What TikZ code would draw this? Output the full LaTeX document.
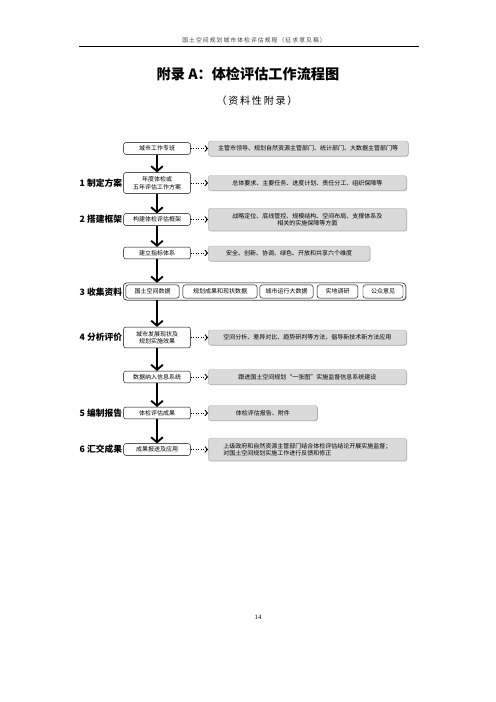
\documentclass[tikz,border=0pt]{standalone}
\usepackage{fontspec}
\setmainfont{Noto Sans CJK SC}
\newfontfamily\spacedcjk[LetterSpace=18]{Noto Sans CJK SC}
\newfontfamily\pagenumfont{Liberation Serif}
\usetikzlibrary{arrows.meta, positioning, shadows}
\definecolor{boxgrey}{HTML}{DADADA}
\definecolor{boxedge}{HTML}{A8A8A8}
\definecolor{headgrey}{HTML}{404040}
\tikzset{
  flowbox/.style={rectangle, rounded corners=2.5pt, draw=black, line width=0.5pt, fill=white,
    minimum width=80pt, minimum height=14pt, align=center, inner sep=1pt,
    font=\fontsize{7.2}{9}\selectfont},
  flowboxtwo/.style={flowbox, minimum height=25pt},
  notebox/.style={rectangle, rounded corners=3pt, draw=boxedge, line width=0.4pt, fill=boxgrey,
    minimum height=18pt, align=center, anchor=west, inner sep=1.5pt,
    font=\fontsize{7.2}{9}\selectfont,
    drop shadow={shadow xshift=0.6pt, shadow yshift=-0.6pt, fill=black, opacity=0.35}},
  noteboxtwo/.style={notebox, minimum height=27pt},
  databox/.style={rectangle, rounded corners=3pt, draw=black, line width=0.5pt, fill=white,
    minimum height=16pt, inner sep=1pt, font=\fontsize{7.2}{9}\selectfont},
  groupbox/.style={rectangle, rounded corners=4pt, draw=black, line width=0.6pt, fill=white,
    minimum width=339pt, minimum height=20.5pt, inner sep=0pt,
    drop shadow={shadow xshift=0.8pt, shadow yshift=-0.8pt, fill=black, opacity=0.35}},
  stagelabel/.style={anchor=east, inner sep=1pt, font=\bfseries\fontsize{10.5}{12}\selectfont},
  flowarrow/.style={-{Straight Barb[length=6pt, width=14pt]}, line width=2.2pt},
  dotarrow/.style={-{Straight Barb[length=3pt, width=7pt]}, line width=1.1pt, dotted},
}
\begin{document}
\begin{tikzpicture}[x=1.2pt, y=-1.2pt]
\useasboundingbox[fill=white] (0,0) rectangle (496,702);

% page head
\node[font=\spacedcjk\fontsize{7}{8}\selectfont, text=headgrey] (head) at (254,40) {国土空间规划城市体检评估规程（征求意见稿）};
\coordinate (headl) at (79,46.5);
\coordinate (headr) at (419,46.5);
\draw[line width=0.8pt] (headl) -- (headr);
\node[font=\bfseries\fontsize{17}{20}\selectfont] (title) at (248,74) {附录 A：体检评估工作流程图};
\node[font=\spacedcjk\fontsize{12}{14}\selectfont] (subtitle) at (257,101) {（资料性附录）};

% main column
\node[flowbox] (b1) at (157,148.5) {城市工作专班};
\node[flowboxtwo] (b2) at (157,183) {年度体检或\\五年评估工作方案};
\node[flowbox] (b3) at (157,219.5) {构建体检评估框架};
\node[flowbox] (b4) at (157,253) {建立指标体系};
\node[flowboxtwo] (b6) at (157,337.5) {城市发展现状及\\规划实施效果};
\node[flowbox] (b7) at (157,377) {数据纳入信息系统};
\node[flowbox] (b8) at (157,413) {体检评估成果};
\node[flowbox] (b9) at (157,449.5) {成果报送及应用};

% data sources
\node[groupbox] (rowbox) at (264.5,291.5) {};
\node[databox, minimum width=64pt] (d1) at (152.5,291.5) {国土空间数据};
\node[databox, minimum width=89pt] (d2) at (220,291.5) {规划成果和现状数据};
\node[databox, minimum width=64pt] (d3) at (286.5,291.5) {城市运行大数据};
\node[databox, minimum width=49pt] (d4) at (337.5,291.5) {实地调研};
\node[databox, minimum width=48pt] (d5) at (383,291.5) {公众意见};

% stage labels
\node[stagelabel] (s1) at (123,183) {1 制定方案};
\node[stagelabel] (s2) at (123,219) {2 搭建框架};
\node[stagelabel] (s3) at (123,292) {3 收集资料};
\node[stagelabel] (s4) at (123,337.5) {4 分析评价};
\node[stagelabel] (s5) at (123,413) {5 编制报告};
\node[stagelabel] (s6) at (123,449.5) {6 汇交成果};

% notes
\node[notebox, minimum width=240pt] (g1) at (208,148.5) {主管市领导、规划自然资源主管部门、统计部门、大数据主管部门等};
\node[notebox, minimum width=238pt] (g2) at (208,183) {总体要求、主要任务、进度计划、责任分工、组织保障等};
\node[noteboxtwo, minimum width=238pt] (g3) at (208,219.5) {战略定位、底线管控、规模结构、空间布局、支撑体系及\\相关的实施保障等方面};
\node[notebox, minimum width=194pt] (g4) at (208,253.5) {安全、创新、协调、绿色、开放和共享六个维度};
\node[notebox, minimum width=238pt] (g6) at (208,337.5) {空间分析、差异对比、趋势研判等方法，倡导新技术新方法应用};
\node[notebox, minimum width=238pt] (g7) at (208,377) {跟进国土空间规划“一张图”实施监督信息系统建设};
\node[notebox, minimum width=131pt] (g8) at (208,413) {体检评估报告、附件};
\node[noteboxtwo, minimum width=238pt, align=left] (g9) at (208,449.5) {上级政府和自然资源主管部门结合体检评估结论开展实施监督；\\对国土空间规划实施工作进行反馈和修正};

% flow
\draw[flowarrow] (b1) -- (b2);
\draw[flowarrow] (b2) -- (b3);
\draw[flowarrow] (b3) -- (b4);
\draw[flowarrow] (b4) -- (b4 |- rowbox.north);
\draw[flowarrow] (rowbox.south -| b6) -- (b6);
\draw[flowarrow] (b6) -- (b7);
\draw[flowarrow] (b7) -- (b8);
\draw[flowarrow] (b8) -- (b9);

\foreach \src/\dst in {b1/g1, b2/g2, b3/g3, b4/g4, b6/g6, b7/g7, b8/g8, b9/g9}
  \draw[dotarrow] (\src.east) -- (\dst.west |- \src.east);

\node[font=\pagenumfont\fontsize{8}{9}\selectfont] (pagenum) at (258,617) {14};
\end{tikzpicture}
\end{document}
